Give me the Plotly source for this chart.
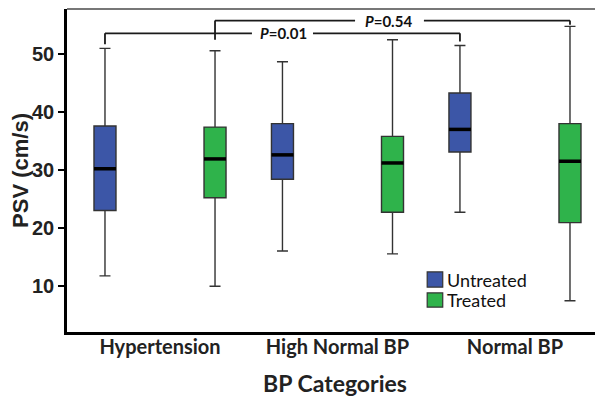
import plotly.graph_objects as go

categories = ["Hypertension", "High Normal BP", "Normal BP"]
groups = ["Untreated", "Treated"]

# summary statistics (PSV, cm/s)
untreated_q1 = [23.0, 28.4, 33.1]
untreated_median = [30.2, 32.6, 37.0]
untreated_q3 = [37.6, 38.0, 43.3]
untreated_low = [11.7, 16.0, 22.7]
untreated_high = [51.0, 48.7, 51.5]

treated_q1 = [25.2, 22.7, 20.9]
treated_median = [31.9, 31.2, 31.5]
treated_q3 = [37.4, 35.8, 38.0]
treated_low = [9.9, 15.5, 7.4]
treated_high = [50.6, 52.5, 54.8]

p_labels = ["P=0.01", "P=0.54"]

BLUE = "#3C56A7"
GREEN = "#2FB34B"
OFFSET = 0.31
BOX_W = 0.124
FONT_LABEL = "Lato, 'Open Sans', sans-serif"
FONT_NUM = "Arial, 'Liberation Sans', sans-serif"

fig = go.Figure()

series = [
    (groups[0], -OFFSET, BLUE, untreated_q1, untreated_median, untreated_q3, untreated_low, untreated_high),
    (groups[1], OFFSET, GREEN, treated_q1, treated_median, treated_q3, treated_low, treated_high),
]

for name, off, col, q1, med, q3, lo, hi in series:
    xs = [i + off for i in range(len(categories))]
    fig.add_trace(go.Box(
        name=name, x=xs, q1=q1, median=med, q3=q3, lowerfence=lo, upperfence=hi,
        width=BOX_W, whiskerwidth=0.5, boxpoints=False,
        fillcolor=col, line=dict(color="#333333", width=1.4),
        showlegend=False, hoverinfo="skip",
    ))
    # thick median bars
    mx, my = [], []
    for x, m in zip(xs, med):
        mx += [x - BOX_W / 2, x + BOX_W / 2, None]
        my += [m, m, None]
    fig.add_trace(go.Scatter(x=mx, y=my, mode="lines",
                             line=dict(color="black", width=3.5),
                             showlegend=False, hoverinfo="skip"))

# significance brackets: (x_left, x_right, y_bar, y_left_end, y_right_end, text_x, gap_l, gap_r)
brackets = [
    (-OFFSET, 2 - OFFSET, 53.6, 51.7, 52.2, 0.693, 0.518, 0.862, p_labels[0]),
    (OFFSET, 2 + OFFSET, 55.8, 52.5, 55.1, 1.285, 1.099, 1.487, p_labels[1]),
]
lc = dict(color="#1a1a1a", width=1.8)
for xl, xr, yb, yl, yr, tx, gl, gr, lab in brackets:
    fig.add_shape(type="line", x0=xl, x1=xl, y0=yl, y1=yb, line=lc)
    fig.add_shape(type="line", x0=xl, x1=gl, y0=yb, y1=yb, line=lc)
    fig.add_shape(type="line", x0=gr, x1=xr, y0=yb, y1=yb, line=lc)
    fig.add_shape(type="line", x0=xr, x1=xr, y0=yb, y1=yr, line=lc)
    p, rest = lab.split("=")
    fig.add_annotation(x=tx, y=yb, text=f"<b><i>{p}</i>={rest}</b>", showarrow=False,
                       font=dict(family=FONT_LABEL, size=15, color="#111"),
                       xanchor="center", yanchor="middle")

# top frame line (gray)
fig.add_shape(type="line", xref="paper", yref="paper", x0=0, x1=1, y0=1, y1=1,
              line=dict(color="#777777", width=2))

# manual legend
leg = [(groups[0], BLUE, 0.139, 0.186, 0.162), (groups[1], GREEN, 0.077, 0.121, 0.099)]
for name, col, y0, y1, yc in leg:
    fig.add_shape(type="rect", xref="paper", yref="paper", x0=0.672, x1=0.701, y0=y0, y1=y1,
                  fillcolor=col, line=dict(color="#333", width=1.2))
    fig.add_annotation(xref="paper", yref="paper", x=0.706, y=yc, text=name, showarrow=False,
                       xanchor="left", yanchor="middle",
                       font=dict(family=FONT_LABEL, size=18, color="#111"))

# the page body has an 8px default margin; size the figure so it fills the 603x401 window
fig.update_layout(
    width=595, height=393,
    margin=dict(l=59, r=0, t=1, b=69),
    paper_bgcolor="white", plot_bgcolor="white",
    showlegend=False,
    xaxis=dict(
        automargin=False,
        range=[-0.524, 2.496], tickmode="array", tickvals=list(range(len(categories))),
        ticktext=categories, showgrid=False, zeroline=False,
        showline=True, linecolor="black", linewidth=2.5, ticks="",
        ticklabelstandoff=-5,
        tickfont=dict(family=FONT_LABEL, size=20, color="#222", weight="bold"),
        title=dict(text="<b>BP Categories</b>", standoff=20,
                   font=dict(family=FONT_LABEL, size=23, color="#222")),
    ),
    yaxis=dict(
        automargin=False,
        range=[2.0, 57.8], tickvals=[10, 20, 30, 40, 50], showgrid=False, zeroline=False,
        showline=True, linecolor="black", linewidth=2.5, ticks="outside", ticklen=6,
        tickwidth=1.5, tickcolor="black",
        tickfont=dict(family=FONT_NUM, size=20, color="#222", weight="bold"),
        title=dict(text="<b>PSV (cm/s)</b>", standoff=2,
                   font=dict(family=FONT_NUM, size=22, color="#222")),
    ),
)

fig.write_html("out.html")
